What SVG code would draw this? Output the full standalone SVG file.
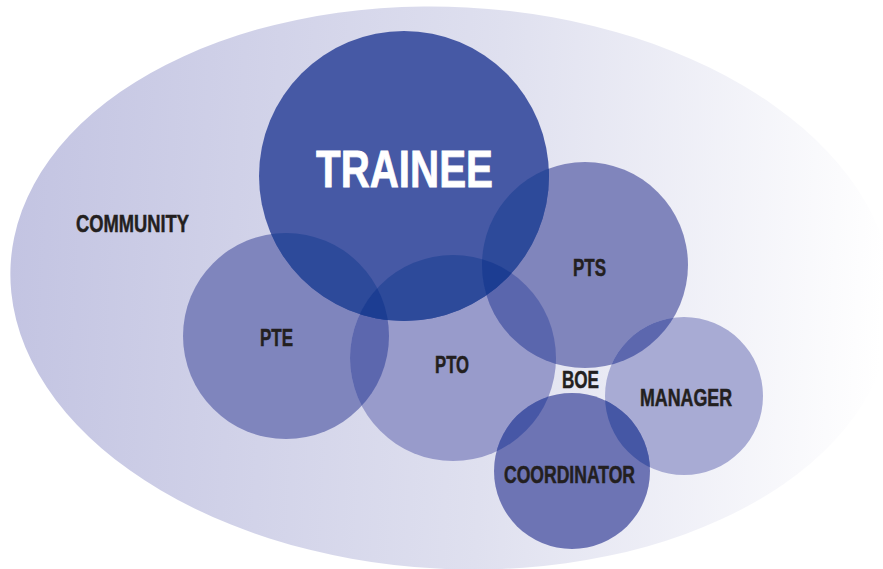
<svg xmlns="http://www.w3.org/2000/svg" width="883" height="569" viewBox="0 0 883 569">
<style>
.lbl{font-family:"Liberation Sans",Arial,sans-serif;font-weight:bold;font-size:24px;fill:#231f20;stroke:#231f20;stroke-width:0.5}
.big{font-family:"Liberation Sans",Arial,sans-serif;font-weight:bold;font-size:52px;fill:#ffffff;stroke:#ffffff;stroke-width:0.8}
</style>
<defs>
<linearGradient id="bg" gradientUnits="userSpaceOnUse" x1="10" y1="0" x2="883" y2="0">
<stop offset="0" stop-color="#c3c4e2"/>
<stop offset="0.55" stop-color="#dfe0ef"/>
<stop offset="1" stop-color="#ffffff"/>
</linearGradient>
<clipPath id="cT"><circle cx="404" cy="176" r="145"/></clipPath>
<clipPath id="cPTE"><circle cx="286" cy="336" r="103"/></clipPath>
<clipPath id="cPTO"><circle cx="453" cy="358" r="103"/></clipPath>
<clipPath id="cPTS"><circle cx="585" cy="265" r="103"/></clipPath>
<clipPath id="cMGR"><circle cx="684" cy="396" r="79"/></clipPath>
<clipPath id="cCO"><circle cx="572" cy="471" r="78"/></clipPath>
</defs>
<rect width="883" height="569" fill="#ffffff"/>
<g id="community">
<ellipse cx="452" cy="288" rx="442" ry="281" transform="rotate(3 452 288)" fill="url(#bg)"/>
<text class="lbl" x="76" y="232" textLength="113" lengthAdjust="spacingAndGlyphs">COMMUNITY</text>
</g>
<g id="pte"><circle cx="286" cy="336" r="103" fill="#7f85bd"/></g>
<g id="pto"><circle cx="453" cy="358" r="103" fill="#989bcb"/></g>
<g id="pts"><circle cx="585" cy="265" r="103" fill="#8085bc"/></g>
<g id="manager"><circle cx="684" cy="396" r="79" fill="#a8abd4"/></g>
<g id="coordinator"><circle cx="572" cy="471" r="78" fill="#6d74b4"/></g>
<g id="trainee"><circle cx="404" cy="176" r="145" fill="#4659a5"/></g>
<g id="overlaps">
<circle cx="453" cy="358" r="103" fill="#5c67ae" clip-path="url(#cPTE)"/>
<circle cx="453" cy="358" r="103" fill="#5a66ad" clip-path="url(#cPTS)"/>
<circle cx="684" cy="396" r="79" fill="#5c67ae" clip-path="url(#cPTS)"/>
<circle cx="572" cy="471" r="78" fill="#4757a6" clip-path="url(#cPTO)"/>
<circle cx="572" cy="471" r="78" fill="#4557a5" clip-path="url(#cMGR)"/>
<circle cx="404" cy="176" r="145" fill="#2d4a9a" clip-path="url(#cPTE)"/>
<circle cx="404" cy="176" r="145" fill="#2d4a9a" clip-path="url(#cPTO)"/>
<circle cx="404" cy="176" r="145" fill="#2d4a9a" clip-path="url(#cPTS)"/>
<g clip-path="url(#cT)"><circle cx="453" cy="358" r="103" fill="#1c3d92" clip-path="url(#cPTE)"/></g>
<g clip-path="url(#cT)"><circle cx="453" cy="358" r="103" fill="#1c3d92" clip-path="url(#cPTS)"/></g>
</g>
<g id="labels">
<text class="big" x="316" y="187" textLength="177" lengthAdjust="spacingAndGlyphs">TRAINEE</text>
<text class="lbl" x="260" y="346" textLength="33" lengthAdjust="spacingAndGlyphs">PTE</text>
<text class="lbl" x="435" y="373" textLength="34" lengthAdjust="spacingAndGlyphs">PTO</text>
<text class="lbl" x="573" y="276" textLength="33" lengthAdjust="spacingAndGlyphs">PTS</text>
<text class="lbl" x="562" y="388" textLength="37" lengthAdjust="spacingAndGlyphs">BOE</text>
<text class="lbl" x="640" y="406" textLength="92" lengthAdjust="spacingAndGlyphs">MANAGER</text>
<text class="lbl" x="504" y="483" textLength="131" lengthAdjust="spacingAndGlyphs">COORDINATOR</text>
</g>
</svg>
